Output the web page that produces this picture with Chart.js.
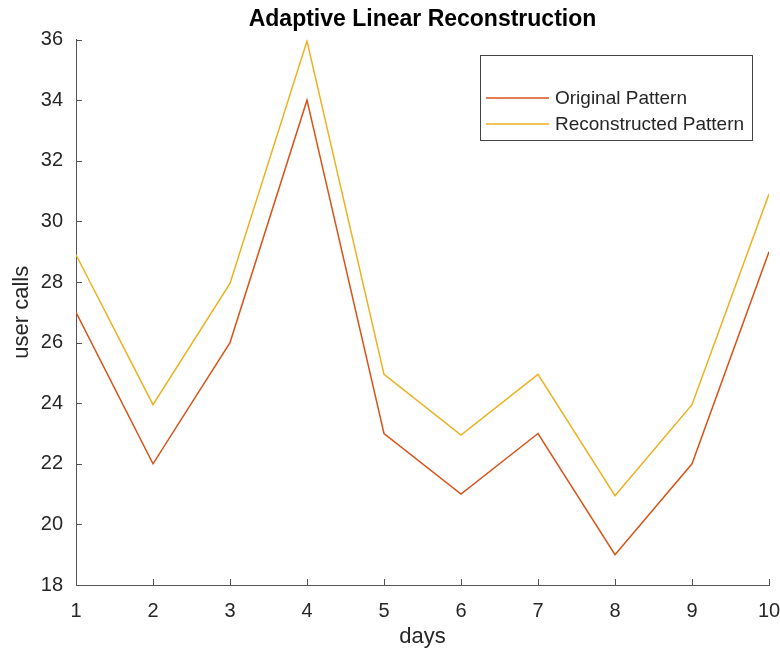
<!DOCTYPE html>
<html lang="en">
<head>
<meta charset="UTF-8">
<title>Adaptive Linear Reconstruction</title>
<script src="https://cdn.jsdelivr.net/npm/chart.js"></script>
<style>
  html, body { margin: 0; padding: 0; background: #fff; }
  #wrap { width: 780px; height: 652px; }
</style>
</head>
<body>
<div id="wrap"><canvas id="myChart" width="780" height="652"></canvas></div>
<script>
  // datos
  const days = [1, 2, 3, 4, 5, 6, 7, 8, 9, 10];
  const original = [27, 22, 26, 34, 23, 21, 23, 19, 22, 29];
  const reconstructed = [28.9, 23.95, 27.95, 35.95, 24.95, 22.95, 24.95, 20.95, 23.95, 30.9];
  const yTicks = [18, 20, 22, 24, 26, 28, 30, 32, 34, 36];
  const seriesNames = ['Original Pattern', 'Reconstructed Pattern'];
  const seriesColors = ['#D95319', '#EDB120'];

  const FONT = 'Liberation Sans, Arial, Helvetica, sans-serif';
  const textColor = '#262626';
  const axisColor = '#555555';

  // ticks hacia adentro, estilo matlab
  const inwardTicks = {
    id: 'inwardTicks',
    afterDraw(chart) {
      const c = chart.ctx, a = chart.chartArea;
      const xs = chart.scales.x, ys = chart.scales.y;
      c.save();
      c.strokeStyle = axisColor;
      c.lineWidth = 1;
      c.beginPath();
      xs.ticks.forEach(t => {
        const px = Math.round(xs.getPixelForValue(t.value)) + 0.5;
        c.moveTo(px, a.bottom);
        c.lineTo(px, a.bottom - 6);
      });
      ys.ticks.forEach(t => {
        const py = Math.round(ys.getPixelForValue(t.value)) + 0.5;
        c.moveTo(a.left, py);
        c.lineTo(a.left + 6, py);
      });
      c.stroke();
      c.restore();
    }
  };

  // leyenda con caja
  const boxLegend = {
    id: 'boxLegend',
    afterDraw(chart) {
      const c = chart.ctx;
      c.save();
      c.fillStyle = '#fff';
      c.fillRect(480, 55, 272, 85);
      c.strokeStyle = '#444';
      c.lineWidth = 1;
      c.strokeRect(480.5, 55.5, 272, 85);
      c.font = '19px ' + FONT;
      c.textBaseline = 'middle';
      const rows = [98, 124];
      seriesNames.forEach((name, i) => {
        c.strokeStyle = seriesColors[i];
        c.lineWidth = 1.5;
        c.beginPath();
        c.moveTo(486, rows[i]);
        c.lineTo(549, rows[i]);
        c.stroke();
        c.fillStyle = textColor;
        c.fillText(name, 555, rows[i] + 1);
      });
      c.restore();
    }
  };

  const ctx = document.getElementById('myChart').getContext('2d');
  const chart = new Chart(ctx, {
    type: 'line',
    data: {
      datasets: [
        {
          label: seriesNames[0],
          data: days.map((d, i) => ({ x: d, y: original[i] })),
          borderColor: seriesColors[0],
          borderWidth: 1.5,
          pointRadius: 0,
          tension: 0,
          fill: false
        },
        {
          label: seriesNames[1],
          data: days.map((d, i) => ({ x: d, y: reconstructed[i] })),
          borderColor: seriesColors[1],
          borderWidth: 1.5,
          pointRadius: 0,
          tension: 0,
          fill: false
        }
      ]
    },
    options: {
      responsive: false,
      animation: false,
      events: [],
      layout: { padding: { top: 0, right: 11, left: 0, bottom: 0 } },
      plugins: {
        legend: { display: false },
        tooltip: { enabled: false },
        title: {
          display: true,
          fullSize: false,
          text: 'Adaptive Linear Reconstruction',
          color: '#000',
          font: { family: FONT, size: 23, weight: 'bold' },
          padding: { top: 6, bottom: 6 }
        }
      },
      scales: {
        x: {
          type: 'linear',
          min: 1,
          max: 10,
          grid: { display: false },
          border: { display: true, color: axisColor, width: 1 },
          ticks: {
            stepSize: 1,
            color: textColor,
            padding: 6,
            font: { family: FONT, size: 20 }
          },
          title: {
            display: true,
            text: 'days',
            color: textColor,
            font: { family: FONT, size: 22 },
            padding: { top: 0, bottom: 2 }
          },
          afterFit(s) {
            s.height = 67;
            s.paddingRight = 0;
          }
        },
        y: {
          min: 18,
          max: 36,
          grid: { display: false },
          border: { display: true, color: axisColor, width: 1 },
          afterBuildTicks(s) { s.ticks = yTicks.map(v => ({ value: v })); },
          ticks: {
            color: textColor,
            padding: 5,
            font: { family: FONT, size: 20 }
          },
          title: {
            display: true,
            text: 'user calls',
            color: textColor,
            font: { family: FONT, size: 22 },
            padding: { top: 9, bottom: 0 }
          },
          afterFit(s) { s.width = 76; }
        }
      }
    },
    plugins: [inwardTicks, boxLegend]
  });
</script>
</body>
</html>
